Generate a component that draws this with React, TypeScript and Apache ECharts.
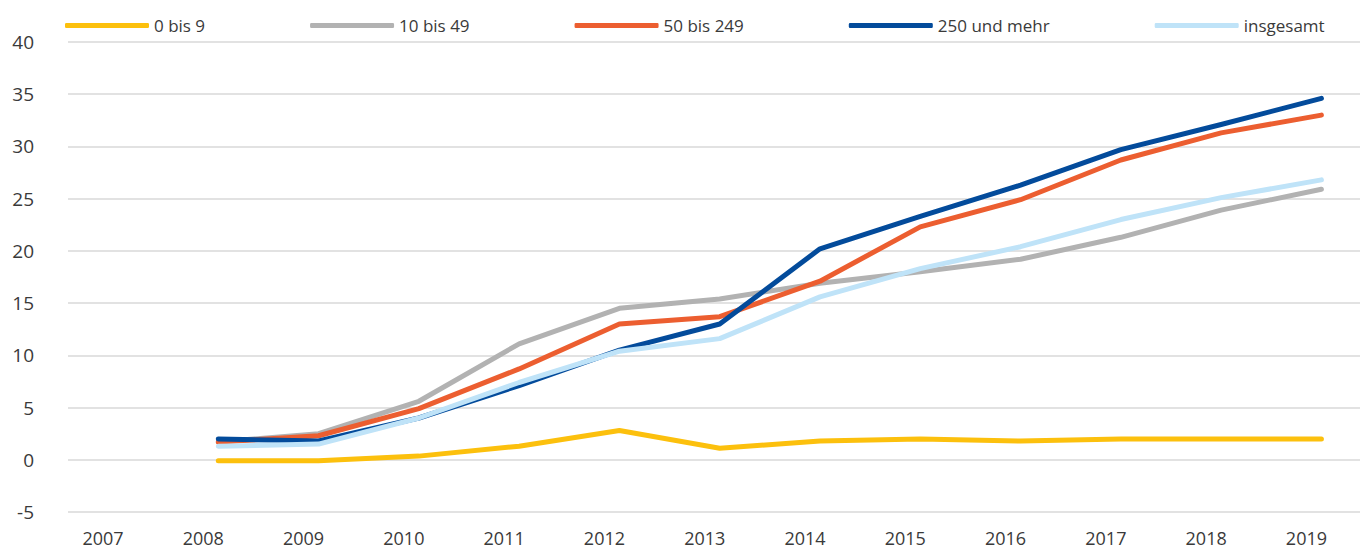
import React, { useEffect, useRef } from "react";
import * as echarts from "echarts";

const years = ["2007", "2008", "2009", "2010", "2011", "2012", "2013", "2014", "2015", "2016", "2017", "2018", "2019"];
const s0bis9 = [null, -0.1, -0.1, 0.35, 1.3, 2.8, 1.1, 1.8, 2.0, 1.8, 2.0, 2.0, 2.0];
const s10bis49 = [null, 1.7, 2.5, 5.6, 11.1, 14.5, 15.4, 16.9, 18.0, 19.2, 21.3, 23.9, 25.9];
const s50bis249 = [null, 1.7, 2.3, 4.9, 8.7, 13.0, 13.7, 17.1, 22.3, 24.9, 28.7, 31.3, 33.0];
const s250 = [null, 2.0, 1.8, 4.0, 7.1, 10.5, 13.0, 20.2, 23.3, 26.3, 29.7, 32.1, 34.6];
const sGesamt = [null, 1.3, 1.5, 4.0, 7.4, 10.4, 11.6, 15.6, 18.3, 20.4, 23.0, 25.1, 26.8];
const yTicks = { min: -5, max: 40, interval: 5 };

const FONT = "'Open Sans', 'Noto Sans', sans-serif";
const TEXT = "#3a3a3a";

export default function App() {
  const ref = useRef<HTMLDivElement>(null);
  useEffect(() => {
    if (!ref.current) return;
    const chart = echarts.init(ref.current, null, { renderer: "svg" });
    const mk = (name: string, data: (number | null)[], color: string) => ({
      name,
      type: "line",
      xAxisIndex: 1,
      yAxisIndex: 1,
      data,
      showSymbol: false,
      symbol: "none",
      lineStyle: { color, width: 5, cap: "round", join: "round" },
      itemStyle: { color },
    });
    chart.setOption({
      animation: false,
      backgroundColor: "#ffffff",
      textStyle: { fontFamily: FONT },
      legend: {
        top: 12,
        left: 60,
        itemGap: 105,
        itemWidth: 84,
        itemHeight: 5,
        icon: "roundRect",
        textStyle: { fontSize: 17, color: TEXT, fontFamily: FONT },
        data: ["0 bis 9", "10 bis 49", "50 bis 249", "250 und mehr", "insgesamt"],
      },
      grid: [
        { left: 68, right: 0, top: 42, bottom: 37, containLabel: false },
        { left: 118, right: 37, top: 42, bottom: 37, containLabel: false },
      ],
      xAxis: [
        { type: "value", gridIndex: 0, min: 0, max: 1, show: false },
        {
          type: "category",
          gridIndex: 1,
          data: years,
          boundaryGap: false,
          axisLine: { show: false },
          axisTick: { show: false },
          splitLine: { show: false },
          axisLabel: {
            fontSize: 18,
            lineHeight: 18,
            color: TEXT,
            fontFamily: FONT,
            margin: 17,
            padding: [0, 30, 0, 0],
            interval: 0,
          },
        },
      ],
      yAxis: [
        {
          type: "value",
          gridIndex: 0,
          min: yTicks.min,
          max: yTicks.max,
          interval: yTicks.interval,
          axisLine: { show: false },
          axisTick: { show: false },
          splitLine: { show: true, lineStyle: { color: "#d9d9d9", width: 1.5 } },
          axisLabel: { fontSize: 19, color: TEXT, fontFamily: FONT, margin: 34 },
        },
        {
          type: "value",
          gridIndex: 1,
          min: yTicks.min,
          max: yTicks.max,
          interval: yTicks.interval,
          show: false,
          splitLine: { show: false },
        },
      ],
      series: [
        mk("0 bis 9", s0bis9, "#fcc00d"),
        mk("10 bis 49", s10bis49, "#b2b2b2"),
        mk("50 bis 249", s50bis249, "#ec5e30"),
        mk("250 und mehr", s250, "#034b9b"),
        mk("insgesamt", sGesamt, "#bfe3f8"),
      ],
    });
    return () => chart.dispose();
  }, []);
  return <div ref={ref} style={{ position: "fixed", left: 0, top: 0, width: 1360, height: 549 }} />;
}
